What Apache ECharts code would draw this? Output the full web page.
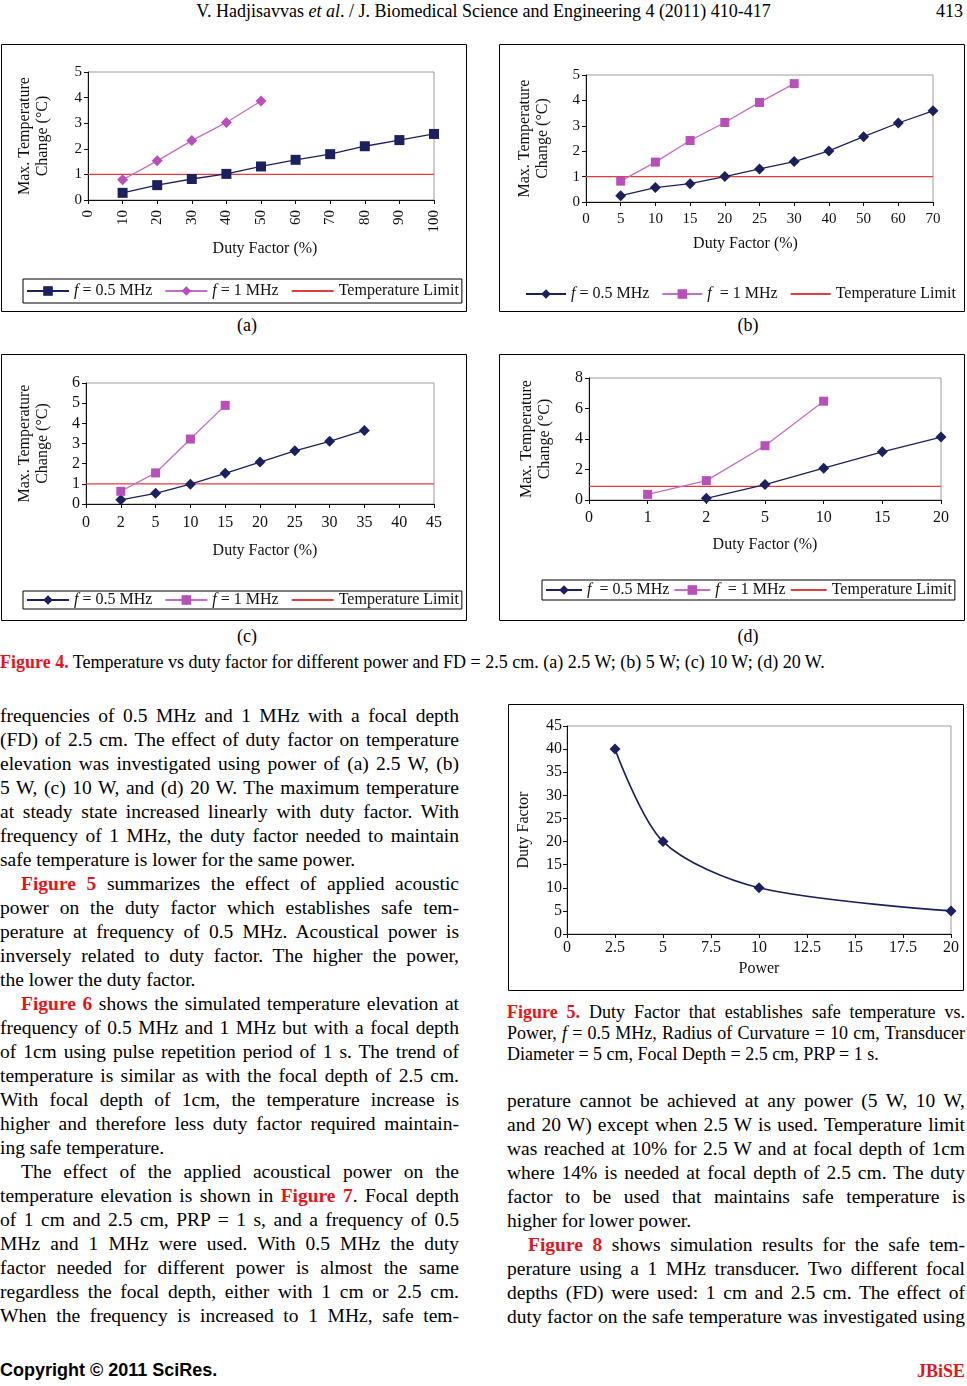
<!DOCTYPE html>
<html><head><meta charset="utf-8">
<script src="https://cdn.jsdelivr.net/npm/echarts@6/dist/echarts.min.js"></script>
<style>
html,body{margin:0;padding:0;background:#fff}
body{width:967px;height:1386px;position:relative;overflow:hidden;font-family:"Liberation Serif","Times New Roman",serif;color:#000}
.abs{position:absolute}
.chart{position:absolute}
.col{position:absolute}
.col div{height:24px;line-height:24px;font-size:19.5px;text-align:justify;text-align-last:justify}
.col div.last{text-align-last:left}
.col div.ind{padding-left:21px}
.cap div{height:21px;line-height:21px;font-size:18px;text-align:justify;text-align-last:justify}
.cap div.last{text-align-last:left}
.red{color:#e3161c;font-weight:bold}
.sub{font-size:18px;text-align:center;width:60px;line-height:20px}
</style>
</head><body>
<div class="abs" style="left:0;top:1px;width:967px;text-align:center;font-size:18px;line-height:20px;"><span>V. Hadjisavvas <i>et al</i>. / J. Biomedical Science and Engineering 4 (2011) 410-417</span></div>
<div class="abs" style="right:4px;top:1px;font-size:18px;line-height:20px;">413</div>

<div id="ca" class="chart" style="left:1px;top:44px;width:466px;height:268px"></div>
<div id="cb" class="chart" style="left:499px;top:44px;width:466px;height:268px"></div>
<div id="cc" class="chart" style="left:1px;top:354px;width:466px;height:267px"></div>
<div id="cd" class="chart" style="left:499px;top:354px;width:466px;height:267px"></div>
<div id="cf" class="chart" style="left:508px;top:704px;width:456px;height:287px"></div>

<div class="abs sub" style="left:217px;top:315px">(a)</div>
<div class="abs sub" style="left:718px;top:315px">(b)</div>
<div class="abs sub" style="left:217px;top:626px">(c)</div>
<div class="abs sub" style="left:718px;top:626px">(d)</div>

<div class="abs" style="left:0;top:652px;font-size:18px;line-height:20px;white-space:nowrap"><span class="red">Figure 4.</span> Temperature vs duty factor for different power and FD = 2.5 cm. (a) 2.5 W; (b) 5 W; (c) 10 W; (d) 20 W.</div>

<div class="col" style="left:0;top:704px;width:459px">
<div>frequencies of 0.5 MHz and 1 MHz with a focal depth</div>
<div>(FD) of 2.5 cm. The effect of duty factor on temperature</div>
<div>elevation was investigated using power of (a) 2.5 W, (b)</div>
<div>5 W, (c) 10 W, and (d) 20 W. The maximum temperature</div>
<div>at steady state increased linearly with duty factor. With</div>
<div>frequency of 1 MHz, the duty factor needed to maintain</div>
<div class="last">safe temperature is lower for the same power.</div>
<div class="ind"><span class="red">Figure 5</span> summarizes the effect of applied acoustic</div>
<div>power on the duty factor which establishes safe tem-</div>
<div>perature at frequency of 0.5 MHz. Acoustical power is</div>
<div>inversely related to duty factor. The higher the power,</div>
<div class="last">the lower the duty factor.</div>
<div class="ind"><span class="red">Figure 6</span> shows the simulated temperature elevation at</div>
<div>frequency of 0.5 MHz and 1 MHz but with a focal depth</div>
<div>of 1cm using pulse repetition period of 1 s. The trend of</div>
<div>temperature is similar as with the focal depth of 2.5 cm.</div>
<div>With focal depth of 1cm, the temperature increase is</div>
<div>higher and therefore less duty factor required maintain-</div>
<div class="last">ing safe temperature.</div>
<div class="ind">The effect of the applied acoustical power on the</div>
<div>temperature elevation is shown in <span class="red">Figure 7</span>. Focal depth</div>
<div>of 1 cm and 2.5 cm, PRP = 1 s, and a frequency of 0.5</div>
<div>MHz and 1 MHz were used. With 0.5 MHz the duty</div>
<div>factor needed for different power is almost the same</div>
<div>regardless the focal depth, either with 1 cm or 2.5 cm.</div>
<div>When the frequency is increased to 1 MHz, safe tem-</div>
</div>

<div class="col cap" style="left:507px;top:1002px;width:458px">
<div><span class="red">Figure 5.</span> Duty Factor that establishes safe temperature vs.</div>
<div>Power, <i>f</i> = 0.5 MHz, Radius of Curvature = 10 cm, Transducer</div>
<div class="last">Diameter = 5 cm, Focal Depth = 2.5 cm, PRP = 1 s.</div>
</div>

<div class="col" style="left:507px;top:1089px;width:458px">
<div>perature cannot be achieved at any power (5 W, 10 W,</div>
<div>and 20 W) except when 2.5 W is used. Temperature limit</div>
<div>was reached at 10% for 2.5 W and at focal depth of 1cm</div>
<div>where 14% is needed at focal depth of 2.5 cm. The duty</div>
<div>factor to be used that maintains safe temperature is</div>
<div class="last">higher for lower power.</div>
<div class="ind"><span class="red">Figure 8</span> shows simulation results for the safe tem-</div>
<div>perature using a 1 MHz transducer. Two different focal</div>
<div>depths (FD) were used: 1 cm and 2.5 cm. The effect of</div>
<div>duty factor on the safe temperature was investigated using</div>
</div>

<div class="abs" style="left:0;top:1359px;font-family:'Liberation Sans',Arial,sans-serif;font-weight:bold;font-size:18px;line-height:22px">Copyright © 2011 SciRes.</div>
<div class="abs" style="right:2px;top:1360px;font-weight:bold;font-size:18px;line-height:22px;color:#e3161c">JBiSE</div>

<script>
// ---------------- data ----------------
const seriesNames = ['f = 0.5 MHz', 'f = 1 MHz', 'Temperature Limit'];

// (a) 2.5 W
const catsA = ['0','10','20','30','40','50','60','70','80','90','100'];
const a05 = [null,0.28,0.58,0.82,1.02,1.31,1.57,1.79,2.10,2.34,2.58];
const a1  = [null,0.79,1.53,2.32,3.03,3.87,null,null,null,null,null];
const aLim = [1,1,1,1,1,1,1,1,1,1,1];

// (b) 5 W
const catsB = ['0','5','10','15','20','25','30','40','50','60','70'];
const b05 = [null,0.25,0.57,0.72,1.00,1.30,1.59,2.01,2.57,3.11,3.59];
const b1  = [null,0.82,1.57,2.42,3.13,3.92,4.66,null,null,null,null];
const bLim = [1,1,1,1,1,1,1,1,1,1,1];

// (c) 10 W
const catsC = ['0','2','5','10','15','20','25','30','35','40','45'];
const c05 = [null,0.21,0.53,0.98,1.52,2.08,2.64,3.11,3.65,null,null];
const c1  = [null,0.63,1.54,3.22,4.89,null,null,null,null,null,null];
const cLim = [1,1,1,1,1,1,1,1,1,1,1];

// (d) 20 W
const catsD = ['0','1','2','5','10','15','20'];
const d05 = [null,null,0.11,1.01,2.09,3.16,4.13];
const d1  = [null,0.37,1.27,3.56,6.48,null,null];
const dLim = [0.9,0.9,0.9,0.9,0.9,0.9,0.9];

// Figure 5
const powerW = [2.5, 5, 10, 20];
const safeDuty = [40, 20, 10, 5];

// ---------------- style ----------------
const FONT = '"Liberation Serif","Times New Roman",serif';
const INK = '#111';
const NAVY = '#1c215e';
const MAG = '#b94fb9';
const MAGL = '#c26ec2';
const RED = '#e23c3c';

function frame(w, h) {
  return [{type:'rect', silent:true, shape:{x:0.5,y:0.5,width:w-1,height:h-1},
           style:{fill:null, stroke:'#000', lineWidth:1}}];
}

function dutyOption(o) {
  const mk05 = o.sq05 ? {symbol:'rect', symbolSize:[10,10]} : {symbol:'diamond', symbolSize:[11,11]};
  const mk1 = o.sq05 ? {symbol:'diamond', symbolSize:[11,11]} : {symbol:'rect', symbolSize:[9,9]};
  const names = o.names || seriesNames;
  return {
    animation:false,
    textStyle:{fontFamily:FONT, color:INK},
    graphic: frame(o.w, o.h),
    grid:{left:o.grid[0], top:o.grid[1], width:o.grid[2], height:o.grid[3], show:true,
          borderColor:'#9c9c9c', borderWidth:1, backgroundColor:'#fff'},
    xAxis:{type:'category', data:o.cats, boundaryGap:false,
      axisLine:{lineStyle:{color:INK, width:1}},
      axisTick:{show:true, length:4, lineStyle:{color:INK}},
      axisLabel:{color:INK, fontFamily:FONT, fontSize:o.fs, rotate:o.rotate||0, margin:o.xMargin, interval:0},
      name:'Duty Factor (%)', nameLocation:'middle', nameGap:o.xNameGap,
      nameTextStyle:{fontFamily:FONT, fontSize:16, color:INK, padding:o.xNamePad||0}},
    yAxis:{type:'value', min:0, max:o.yMax, interval:o.yInt,
      axisLine:{show:true, lineStyle:{color:INK, width:1}},
      axisTick:{show:true, length:4, lineStyle:{color:INK}},
      splitLine:{show:false},
      axisLabel:{color:INK, fontFamily:FONT, fontSize:o.fs, margin:6},
      name:'Max. Temperature\nChange (°C)', nameLocation:'middle', nameRotate:90, nameGap:o.yNameGap,
      nameTextStyle:{fontFamily:FONT, fontSize:16, color:INK, lineHeight:18}},
    legend:Object.assign({
      orient:'horizontal', itemHeight:12, itemWidth:o.lw || 42, itemGap:o.lgap || 12,
      padding:o.lpad || [4,3],
      borderColor:o.lborder ? '#000' : 'transparent', borderWidth:o.lborder ? 1 : 0,
      textStyle:{fontFamily:FONT, fontSize:16, color:INK,
        rich:{it:{fontFamily:FONT, fontSize:16, fontStyle:'italic', color:INK}}},
      formatter:function(n){ const i = seriesNames.indexOf(n); const t = names[i]; return t.replace(/^f/, '{it|f}'); },
      data:[seriesNames[0], seriesNames[1], {name:seriesNames[2], itemStyle:{opacity:0}}]
    }, o.legendPos),
    series:[
      Object.assign({name:seriesNames[0], type:'line', data:o.s05, color:NAVY,
        lineStyle:{color:NAVY, width:1.3}, itemStyle:{color:NAVY}}, mk05),
      Object.assign({name:seriesNames[1], type:'line', data:o.s1, color:MAG,
        lineStyle:{color:MAGL, width:1.3}, itemStyle:{color:MAG}}, mk1),
      {name:seriesNames[2], type:'line', data:o.lim, color:RED, symbol:'none',
        lineStyle:{color:RED, width:1.3}, z:1}
    ]
  };
}

const ca = echarts.init(document.getElementById('ca'));
ca.setOption(dutyOption({w:466, h:268, cats:catsA, s05:a05, s1:a1, lim:aLim, sq05:true,
  grid:[87,28,346,128], yMax:5, yInt:1, fs:15, rotate:90, xMargin:10, xNameGap:41, xNamePad:[0,0,0,8], yNameGap:36,
  lborder:true, lw:42, lgap:12, lpad:[4,3], legendPos:{left:22, top:235}}));

const cb = echarts.init(document.getElementById('cb'));
cb.setOption(dutyOption({w:466, h:268, cats:catsB, s05:b05, s1:b1, lim:bLim, sq05:false,
  grid:[87,31,347,127], yMax:5, yInt:1, fs:15, xMargin:10, xNameGap:34, xNamePad:[0,28,0,0], yNameGap:34,
  names:['f = 0.5 MHz','f  = 1 MHz','Temperature Limit'],
  lborder:false, lw:40, lgap:12, lpad:[0,0], legendPos:{left:26, top:242}}));

const cc = echarts.init(document.getElementById('cc'));
cc.setOption(dutyOption({w:466, h:267, cats:catsC, s05:c05, s1:c1, lim:cLim, sq05:false,
  grid:[85,29,348,121], yMax:6, yInt:1, fs:16, xMargin:11, xNameGap:39, xNamePad:[0,0,0,10], yNameGap:34,
  lborder:true, lw:42, lgap:12, lpad:[1,3], legendPos:{left:22, top:237}}));

const cd = echarts.init(document.getElementById('cd'));
cd.setOption(dutyOption({w:466, h:267, cats:catsD, s05:d05, s1:d1, lim:dLim, sq05:false,
  grid:[90,24,352,122], yMax:8, yInt:2, fs:16, xMargin:10, xNameGap:37, yNameGap:35,
  names:['f  = 0.5 MHz','f  = 1 MHz','Temperature Limit'],
  lborder:true, lw:36, lgap:4, lpad:[2,3], legendPos:{left:43, top:226}}));

const cf = echarts.init(document.getElementById('cf'));
cf.setOption({
  animation:false,
  textStyle:{fontFamily:FONT, color:INK},
  graphic: frame(456, 287),
  grid:{left:59, top:22, width:384, height:208, show:true, borderColor:'#9c9c9c', borderWidth:1},
  xAxis:{type:'value', min:0, max:20, interval:2.5,
    axisLine:{lineStyle:{color:INK}}, axisTick:{show:true, length:4, lineStyle:{color:INK}},
    splitLine:{show:false},
    axisLabel:{color:INK, fontFamily:FONT, fontSize:16, margin:6},
    name:'Power', nameLocation:'middle', nameGap:27,
    nameTextStyle:{fontFamily:FONT, fontSize:16, color:INK}},
  yAxis:{type:'value', min:0, max:45, interval:5,
    axisLine:{show:true, lineStyle:{color:INK}}, axisTick:{show:true, length:4, lineStyle:{color:INK}},
    splitLine:{show:false},
    axisLabel:{color:INK, fontFamily:FONT, fontSize:16, margin:5},
    name:'Duty Factor', nameLocation:'middle', nameRotate:90, nameGap:35,
    nameTextStyle:{fontFamily:FONT, fontSize:16, color:INK}},
  series:[{type:'line', data:powerW.map(function(p,i){return [p, safeDuty[i]];}),
    smooth:0.3, symbol:'diamond', symbolSize:[11,11],
    color:NAVY, lineStyle:{color:NAVY, width:1.6}, itemStyle:{color:NAVY}}]
});
</script>
</body></html>
